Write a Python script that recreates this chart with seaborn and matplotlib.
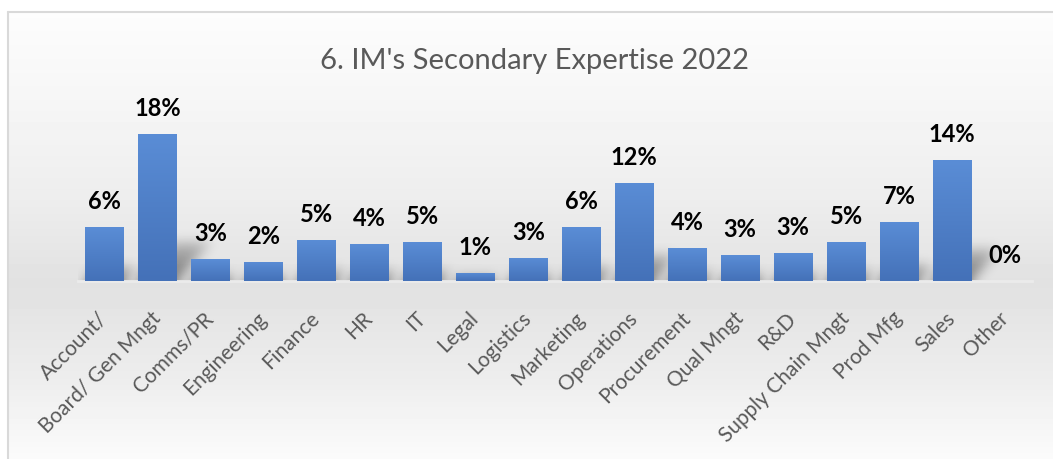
import numpy as np
import pandas as pd
import matplotlib
matplotlib.use("Agg")
import matplotlib.pyplot as plt
import seaborn as sns
from matplotlib.colors import LinearSegmentedColormap

# Share of respondents by secondary area of expertise (%)
categories = ["Account/", "Board/ Gen Mngt", "Comms/PR", "Engineering", "Finance", "HR",
              "IT", "Legal", "Logistics", "Marketing", "Operations", "Procurement",
              "Qual Mngt", "R&D", "Supply Chain Mngt", "Prod Mfg", "Sales", "Other"]
shares = [6.4, 17.6, 2.6, 2.3, 4.9, 4.4, 4.6, 1.0, 2.8, 6.4, 11.7, 3.9,
          3.1, 3.3, 4.6, 7.1, 14.4, 0.0]
title = "6. IM's Secondary Expertise 2022"

W, H, DPI = 1053, 460, 100
sns.set_theme(style="white")
plt.rcParams["font.family"] = ["Lato", "DejaVu Sans"]

fig = plt.figure(figsize=(W / DPI, H / DPI), dpi=DPI)
fig.patch.set_facecolor("white")

# ---- chart-area background: soft vertical gradient inside a thin frame ----
bg = fig.add_axes([0, 0, 1, 1], zorder=-10)
rows = np.arange(H)
col = np.interp(rows, [12, 100, 200, 282, 300, 380, 460],
                [0.99, 0.965, 0.93, 0.885, 0.89, 0.93, 0.985])
img = np.repeat(col[:, None], W, axis=1)
img[:12, :] = 1.0
img[:, :7] = 1.0
bg.imshow(img, cmap="gray", vmin=0, vmax=1, extent=[0, W, H, 0],
          aspect="auto", interpolation="bilinear")
bg.plot([7.5, 7.5], [H, 12.5], color="#d9d9d9", lw=1.5)
bg.plot([7.5, W], [12.5, 12.5], color="#d9d9d9", lw=1.5)
bg.set_xlim(0, W)
bg.set_ylim(H, 0)
bg.axis("off")

# ---- bars ----
ax = fig.add_axes([78 / W, (H - 282) / H, 953.5 / W, 167.6 / H])
ax.patch.set_alpha(0)
df = pd.DataFrame({"category": categories, "share": shares})
sns.barplot(data=df, x="category", y="share", color="#4a7cc6", width=0.73,
            saturation=1, linewidth=0, ax=ax, zorder=3)

XMIN, XMAX, YMAX = -0.5, len(categories) - 0.5, 20

# soft perspective shadow cast behind each bar
nx, ny = 954, 168
xs = np.linspace(XMIN, XMAX, nx)
ys = np.linspace(0, YMAX, ny)
X, Y = np.meshgrid(xs, ys)
shade = np.zeros_like(X)
for p in ax.patches:
    x0, w, h = p.get_x(), p.get_width(), p.get_height()
    if h <= 0:
        continue
    sh = 0.26 * h
    t = Y / sh
    shift = 0.036 * h * t
    inside = (t <= 1) & (X >= x0 + shift) & (X <= x0 + w + shift)
    shade = np.maximum(shade, np.where(inside, 1 - 0.6 * t, 0))


def blur(a, s):
    r = int(3 * s)
    k = np.exp(-0.5 * (np.arange(-r, r + 1) / s) ** 2)
    k /= k.sum()
    pad = np.pad(a, ((r, r), (r, r)), mode="edge")
    pad = np.apply_along_axis(lambda v: np.convolve(v, k, mode="same"), 1, pad)
    pad = np.apply_along_axis(lambda v: np.convolve(v, k, mode="same"), 0, pad)
    return pad[r:-r, r:-r]


shade = blur(shade, 6)
rgba = np.zeros((ny, nx, 4))
rgba[..., 3] = np.clip(0.5 * shade, 0, 1)
ax.imshow(rgba, extent=[XMIN, XMAX, 0, YMAX], origin="lower", aspect="auto",
          zorder=2, interpolation="bilinear")

# vertical gradient fill on each bar
cmap_bar = LinearSegmentedColormap.from_list("bar", ["#4471b8", "#5a8dd6"])
grad = np.linspace(0, 1, 256)[:, None]
for p in ax.patches:
    x0, w, h = p.get_x(), p.get_width(), p.get_height()
    if h <= 0:
        continue
    im = ax.imshow(grad, cmap=cmap_bar, extent=[x0, x0 + w, 0, h], origin="lower",
                   aspect="auto", zorder=4, interpolation="bilinear")
    im.set_clip_path(p)

# value labels
for p, v in zip(ax.patches, shares):
    ax.annotate(f"{v:.0f}%", (p.get_x() + p.get_width() / 2, p.get_height()),
                xytext=(0, 19), textcoords="offset pixels", ha="center",
                va="baseline", fontsize=17, fontweight="bold", color="black",
                annotation_clip=False)

ax.set_xlim(XMIN, XMAX)
ax.set_ylim(0, YMAX)
ax.set_xticks(range(len(categories)))
ax.set_xticklabels(categories, rotation=45, ha="right", va="center",
                   rotation_mode="anchor", fontsize=15, color="#595959")
ax.tick_params(axis="x", length=0, pad=24)
ax.set_yticks([])
ax.set_xlabel("")
ax.set_ylabel("")
for s in ["top", "right", "left"]:
    ax.spines[s].set_visible(False)
ax.spines["bottom"].set_color("#ebebeb")
ax.spines["bottom"].set_linewidth(2)

fig.text(0.508, 1 - 61 / H, title, ha="center", va="center", fontsize=21,
         color="#595959", fontweight="normal")

fig.savefig("out.png", dpi=DPI)
